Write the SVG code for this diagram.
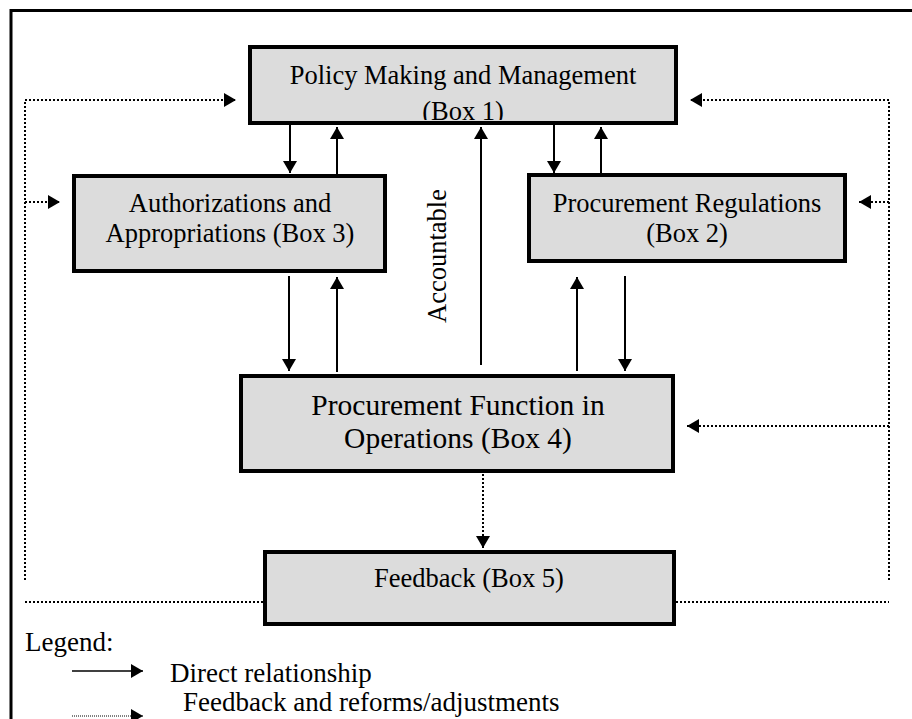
<svg xmlns="http://www.w3.org/2000/svg" width="912" height="719" viewBox="0 0 912 719">
<style>
.box{fill:#dcdcdc;stroke:#000;stroke-width:4}
.t{font-family:"Liberation Serif","Times New Roman",serif;font-size:26.5px;fill:#000;text-anchor:middle}
.t4{font-family:"Liberation Serif","Times New Roman",serif;font-size:29.5px;fill:#000;text-anchor:middle}
.lg{font-family:"Liberation Serif","Times New Roman",serif;font-size:27px;fill:#000}
.solid{stroke:#000;stroke-width:2;fill:none}
.dot{stroke:#000;stroke-width:2;fill:none;stroke-dasharray:2 2}
</style>
<defs>
<marker id="ah" markerUnits="userSpaceOnUse" markerWidth="14" markerHeight="14" viewBox="0 0 12 14" refX="12" refY="7" orient="auto">
<path d="M0,0 L12,7 L0,14 Z" fill="#000"/>
</marker>
<clipPath id="c1"><rect x="252" y="49" width="422" height="71"/></clipPath>
</defs>
<rect width="912" height="719" fill="#fff"/>
<g id="frame">
<path d="M11,719 V10.5 H912" fill="none" stroke="#000" stroke-width="3"/>
</g>
<g id="connectors">
<path class="dot" d="M25,580 V100 H236" marker-end="url(#ah)"/>
<path class="dot" d="M25,202 H60" marker-end="url(#ah)"/>
<path class="dot" d="M889,580 V100 H690" marker-end="url(#ah)"/>
<path class="dot" d="M889,202 H859" marker-end="url(#ah)"/>
<path class="dot" d="M889,426 H687" marker-end="url(#ah)"/>
<path class="dot" d="M483,474 V548" marker-end="url(#ah)"/>
<path class="dot" d="M25,602 H263"/>
<path class="dot" d="M676,602 H889"/>
<path class="solid" d="M290,125 V173" marker-end="url(#ah)"/>
<path class="solid" d="M337,174 V127" marker-end="url(#ah)"/>
<path class="solid" d="M481,365 V127" marker-end="url(#ah)"/>
<path class="solid" d="M554,125 V173" marker-end="url(#ah)"/>
<path class="solid" d="M601,173 V127" marker-end="url(#ah)"/>
<path class="solid" d="M289,276 V371" marker-end="url(#ah)"/>
<path class="solid" d="M337,372 V277" marker-end="url(#ah)"/>
<path class="solid" d="M577,371 V277" marker-end="url(#ah)"/>
<path class="solid" d="M625,276 V371" marker-end="url(#ah)"/>
</g>
<g id="box1">
<rect class="box" x="250" y="47" width="426" height="76"/>
<g clip-path="url(#c1)">
<text class="t" x="463" y="84">Policy Making and Management</text>
<text class="t" x="463" y="120">(Box 1)</text>
</g>
</g>
<g id="box3">
<rect class="box" x="74" y="176" width="311" height="95"/>
<text class="t" x="230" y="212">Authorizations and</text>
<text class="t" x="230" y="242">Appropriations (Box 3)</text>
</g>
<g id="box2">
<rect class="box" x="529" y="175" width="316" height="86"/>
<text class="t" x="687" y="212">Procurement Regulations</text>
<text class="t" x="687" y="242">(Box 2)</text>
</g>
<g id="accountable">
<text class="t" transform="translate(446,256) rotate(-90)">Accountable</text>
</g>
<g id="box4">
<rect class="box" x="241" y="376" width="432" height="95"/>
<text class="t4" x="458" y="415">Procurement Function in</text>
<text class="t4" x="458" y="448">Operations (Box 4)</text>
</g>
<g id="box5">
<rect class="box" x="265" y="552" width="409" height="72"/>
<text class="t" x="469" y="587">Feedback (Box 5)</text>
</g>
<g id="legend">
<text class="lg" x="25" y="651">Legend:</text>
<path d="M72,671 H143" stroke="#000" stroke-width="1.5" marker-end="url(#ah)"/>
<text class="lg" x="170" y="682">Direct relationship</text>
<path d="M72,716 H143" stroke="#000" stroke-width="1" stroke-dasharray="1 1" marker-end="url(#ah)"/>
<text class="lg" x="183" y="711">Feedback and reforms/adjustments</text>
</g>
</svg>
